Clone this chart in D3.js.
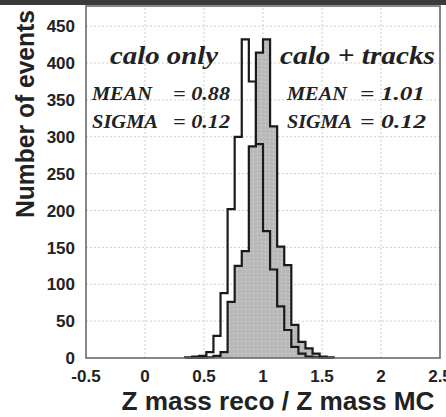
<!DOCTYPE html>
<html>
<head>
<meta charset="utf-8">
<script src="https://cdn.jsdelivr.net/npm/d3@7"></script>
<style>
  body { margin: 0; background: #fff; }
  svg { display: block; }
  .tick-label { font-family: "Liberation Sans", Arial, sans-serif; font-weight: bold; font-size: 17px; fill: #222; }
  .axis-title { font-family: "Liberation Sans", Arial, sans-serif; font-weight: bold; font-size: 25px; fill: #222; }
  .note { font-family: "Liberation Serif", "Times New Roman", serif; font-weight: bold; font-style: italic; fill: #222; }
</style>
</head>
<body>
<svg id="chart"></svg>
<script>
/* histogram bins (low edge of each 0.06 wide bin) */
var binLow = [0.34, 0.40, 0.46, 0.52, 0.58, 0.64, 0.70, 0.76, 0.82, 0.88, 0.94,
              1.00, 1.06, 1.12, 1.18, 1.24, 1.30, 1.36, 1.42, 1.48, 1.54];
var binWidth = 0.06;

/* counts */
var caloOnly   = [1, 2, 3, 8, 30, 88, 202, 300, 432, 375, 290,
                  172, 120, 70, 38, 15, 6, 2, 1, 0, 0];
var caloTracks = [0, 0, 0, 1, 3, 8, 76, 125, 145, 287, 414,
                  432, 314, 151, 126, 45, 22, 13, 6, 2, 1];

/* axis ticks */
var xTicks = [-0.5, 0, 0.5, 1, 1.5, 2, 2.5];
var yTicks = [0, 50, 100, 150, 200, 250, 300, 350, 400, 450];

/* text blocks */
var leftNote  = { title: "calo only",     mean: "= 0.88", sigma: "= 0.12" };
var rightNote = { title: "calo + tracks", mean: "= 1.01", sigma: "= 0.12" };

var width = 446,
    height = 417,
    margin = { top: 7, right: 6, bottom: 59, left: 86 };

var svg = d3.select("#chart")
    .attr("width", width)
    .attr("height", height);

var xScale = d3.scaleLinear()
    .domain([-0.5, 2.5])
    .range([margin.left, width - margin.right]);

var yScale = d3.scaleLinear()
    .domain([0, 476])
    .range([height - margin.bottom, margin.top]);

/* dotted fill for the calo + tracks histogram */
var defs = svg.append("defs");
var pat = defs.append("pattern")
    .attr("id", "dots")
    .attr("width", 4)
    .attr("height", 4)
    .attr("patternUnits", "userSpaceOnUse");
pat.append("rect").attr("width", 4).attr("height", 4).attr("fill", "#b9b9b9");
pat.append("rect").attr("x", 1).attr("y", 1).attr("width", 1).attr("height", 1).attr("fill", "#dcdcdc");

/* top dark band */
svg.append("rect")
    .attr("x", 0).attr("y", 0)
    .attr("width", width).attr("height", 5)
    .attr("fill", "#3a3a3a");

/* grid */
var grid = svg.append("g").attr("class", "grid");
grid.selectAll(".gy")
    .data(yTicks.filter(function (d) { return d > 0; }))
    .enter().append("line")
    .attr("x1", xScale(-0.5)).attr("x2", xScale(2.5))
    .attr("y1", function (d) { return yScale(d); })
    .attr("y2", function (d) { return yScale(d); })
    .attr("stroke", "#cfcfcf")
    .attr("stroke-dasharray", "2,2");
grid.selectAll(".gx")
    .data(xTicks.filter(function (d) { return d > -0.5 && d < 2.5; }))
    .enter().append("line")
    .attr("y1", yScale(0)).attr("y2", margin.top)
    .attr("x1", function (d) { return xScale(d); })
    .attr("x2", function (d) { return xScale(d); })
    .attr("stroke", "#cfcfcf")
    .attr("stroke-dasharray", "2,2");

/* histogram paths */
function histPoints(values) {
    var pts = [[binLow[0], 0]];
    values.forEach(function (v, i) { pts.push([binLow[i], v]); });
    pts.push([binLow[binLow.length - 1] + binWidth, 0]);
    return pts;
}

var area = d3.area()
    .curve(d3.curveStepAfter)
    .x(function (d) { return xScale(d[0]); })
    .y0(yScale(0))
    .y1(function (d) { return yScale(d[1]); });

var line = d3.line()
    .curve(d3.curveStepAfter)
    .x(function (d) { return xScale(d[0]); })
    .y(function (d) { return yScale(d[1]); });

svg.append("path")
    .attr("d", area(histPoints(caloTracks)))
    .attr("fill", "url(#dots)");

svg.append("path")
    .attr("d", line(histPoints(caloTracks)))
    .attr("fill", "none")
    .attr("stroke", "#1a1a1a")
    .attr("stroke-width", 2.2);

svg.append("path")
    .attr("d", line(histPoints(caloOnly)))
    .attr("fill", "none")
    .attr("stroke", "#1a1a1a")
    .attr("stroke-width", 2.2);

/* frame */
svg.append("rect")
    .attr("x", xScale(-0.5))
    .attr("y", margin.top - 1)
    .attr("width", xScale(2.5) - xScale(-0.5))
    .attr("height", yScale(0) - margin.top + 1)
    .attr("fill", "none")
    .attr("stroke", "#6a6a6a")
    .attr("stroke-width", 1.6);

/* tick labels */
svg.selectAll(".ylab")
    .data(yTicks)
    .enter().append("text")
    .attr("class", "tick-label")
    .attr("x", 75)
    .attr("y", function (d) { return yScale(d); })
    .attr("dy", "0.36em")
    .attr("text-anchor", "end")
    .text(function (d) { return d; });

svg.selectAll(".xlab")
    .data(xTicks)
    .enter().append("text")
    .attr("class", "tick-label")
    .attr("x", function (d) { return xScale(d); })
    .attr("y", 382)
    .attr("text-anchor", "middle")
    .text(function (d) { return d; });

/* axis titles */
svg.append("text")
    .attr("class", "axis-title")
    .attr("x", 278)
    .attr("y", 410)
    .attr("text-anchor", "middle")
    .attr("textLength", 313)
    .attr("lengthAdjust", "spacingAndGlyphs")
    .text("Z mass reco / Z mass MC");

svg.append("text")
    .attr("class", "axis-title")
    .attr("transform", "translate(34,114) rotate(-90)")
    .attr("text-anchor", "middle")
    .attr("textLength", 208)
    .attr("lengthAdjust", "spacingAndGlyphs")
    .text("Number of events");

/* annotations: text, x, baseline, size, width */
function noteText(s, x, y, size, len) {
    svg.append("text")
        .attr("class", "note")
        .attr("x", x)
        .attr("y", y)
        .attr("textLength", len)
        .attr("lengthAdjust", "spacingAndGlyphs")
        .style("font-size", size + "px")
        .text(s);
}
noteText(leftNote.title, 110, 64, 25, 108);
noteText("MEAN", 92, 100, 18, 60);
noteText(leftNote.mean, 173, 100, 18, 57);
noteText("SIGMA", 92, 128, 18, 66);
noteText(leftNote.sigma, 173, 128, 18, 57);

noteText(rightNote.title, 280, 64, 25, 155);
noteText("MEAN", 287, 100, 18, 60);
noteText(rightNote.mean, 360, 100, 18, 65);
noteText("SIGMA", 287, 128, 18, 65);
noteText(rightNote.sigma, 360, 128, 18, 66);
</script>
</body>
</html>
